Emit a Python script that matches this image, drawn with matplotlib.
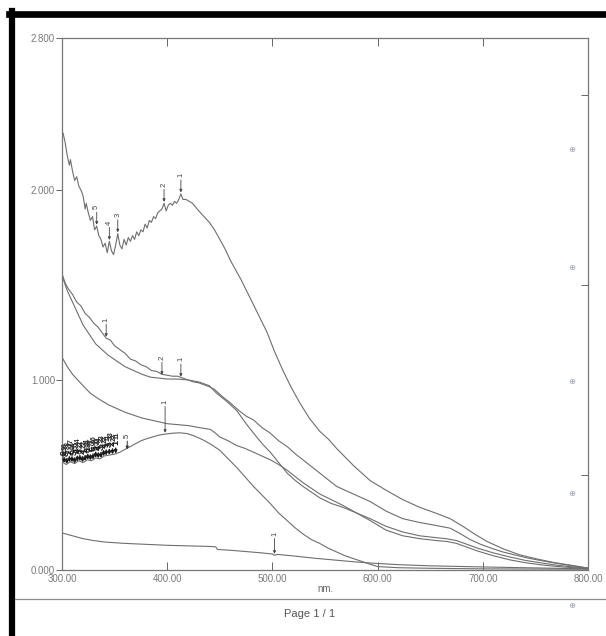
import numpy as np
import matplotlib
matplotlib.use('Agg')
import matplotlib.pyplot as plt
from matplotlib.lines import Line2D

plt.rcParams['font.family'] = ['Liberation Sans', 'DejaVu Sans']

# ---- spectra (wavelength nm, absorbance) ----
a_nm = [300, 301, 303, 305, 307, 308, 310, 312, 314, 316, 318, 320, 322, 323, 325, 327,
        329, 331, 333, 335, 337, 339, 341, 343, 345, 347, 349, 351, 353, 355, 357, 359,
        361, 363, 365, 367, 369, 371, 373, 375, 377, 379, 381, 383, 385, 387, 389, 391,
        393, 395, 397, 399, 401, 403, 405, 407, 409, 411, 413, 415, 418, 421, 424, 427,
        430, 435, 440, 445, 450, 455, 460, 470, 479, 487, 495, 502, 510, 518, 526, 535,
        545, 553, 561, 577, 593, 608, 624, 640, 655, 669, 681, 692, 704, 720, 735, 750,
        767, 784, 800]
a_abs = [2.28, 2.30, 2.25, 2.18, 2.13, 2.16, 2.10, 2.05, 2.07, 2.02, 2.00, 1.97, 1.90, 1.93,
         1.88, 1.84, 1.86, 1.79, 1.81, 1.76, 1.74, 1.70, 1.72, 1.67, 1.73, 1.68, 1.66, 1.71,
         1.77, 1.71, 1.69, 1.74, 1.71, 1.75, 1.73, 1.76, 1.74, 1.78, 1.76, 1.79, 1.78, 1.82,
         1.80, 1.84, 1.83, 1.86, 1.85, 1.88, 1.89, 1.90, 1.93, 1.89, 1.92, 1.93, 1.92, 1.94,
         1.93, 1.95, 1.98, 1.95, 1.95, 1.94, 1.93, 1.91, 1.89, 1.86, 1.83, 1.79, 1.74, 1.69,
         1.63, 1.53, 1.43, 1.34, 1.25, 1.15, 1.05, 0.96, 0.88, 0.80, 0.73, 0.69, 0.64, 0.55,
         0.47, 0.42, 0.37, 0.33, 0.30, 0.27, 0.23, 0.19, 0.15, 0.11, 0.08, 0.06, 0.04, 0.025,
         0.01]

b_nm = [300, 303, 306, 310, 314, 318, 322, 326, 330, 334, 338, 342, 346, 350, 355, 360,
        365, 370, 375, 380, 385, 390, 395, 400, 405, 410, 415, 420, 425, 430, 435, 440,
        445, 453, 460, 468, 475, 482, 490, 498, 506, 514, 522, 529, 537, 545, 553, 561,
        577, 593, 608, 624, 640, 655, 669, 679, 688, 698, 708, 719, 730, 741, 752, 765,
        778, 790, 800]
b_abs = [1.56, 1.51, 1.48, 1.45, 1.41, 1.39, 1.35, 1.33, 1.30, 1.28, 1.25, 1.22, 1.21, 1.18,
         1.16, 1.14, 1.11, 1.10, 1.08, 1.07, 1.05, 1.045, 1.03, 1.025, 1.02, 1.02, 1.01, 1.00,
         0.99, 0.985, 0.975, 0.965, 0.95, 0.91, 0.88, 0.84, 0.81, 0.79, 0.75, 0.72, 0.68, 0.65,
         0.61, 0.58, 0.545, 0.51, 0.475, 0.44, 0.40, 0.36, 0.31, 0.27, 0.25, 0.235, 0.22, 0.19,
         0.16, 0.135, 0.115, 0.095, 0.08, 0.065, 0.053, 0.04, 0.028, 0.018, 0.01]

c_nm = [300, 305, 310, 315, 320, 326, 332, 338, 344, 352, 360, 368, 376, 384, 392, 400,
        410, 420, 430, 440, 447, 456, 466, 475, 485, 491, 498, 506, 514, 522, 529, 537,
        545, 556, 567, 580, 593, 608, 624, 640, 656, 665, 675, 685, 695, 710, 726, 741,
        757, 772, 786, 800]
c_abs = [1.55, 1.47, 1.41, 1.35, 1.29, 1.24, 1.19, 1.16, 1.13, 1.10, 1.07, 1.05, 1.03, 1.015,
         1.01, 1.005, 1.005, 1.00, 0.99, 0.97, 0.93, 0.89, 0.84, 0.77, 0.70, 0.66, 0.62, 0.565,
         0.51, 0.47, 0.44, 0.41, 0.38, 0.35, 0.33, 0.30, 0.27, 0.23, 0.20, 0.18, 0.17, 0.165,
         0.155, 0.135, 0.115, 0.09, 0.068, 0.05, 0.036, 0.024, 0.016, 0.01]

d_nm = [300, 305, 310, 315, 320, 327, 335, 344, 352, 360, 368, 376, 384, 392, 400, 410,
        420, 430, 441, 446, 450, 458, 466, 474, 482, 490, 498, 506, 514, 522, 529, 537,
        545, 556, 567, 580, 593, 608, 624, 640, 656, 666, 675, 685, 695, 710, 726, 741,
        757, 772, 786, 800]
d_abs = [1.12, 1.07, 1.03, 1.00, 0.97, 0.93, 0.90, 0.87, 0.85, 0.83, 0.815, 0.80, 0.79, 0.78,
         0.77, 0.765, 0.76, 0.75, 0.74, 0.72, 0.70, 0.68, 0.655, 0.64, 0.62, 0.60, 0.58, 0.555,
         0.525, 0.49, 0.46, 0.43, 0.40, 0.37, 0.34, 0.30, 0.26, 0.21, 0.18, 0.165, 0.155, 0.15,
         0.14, 0.12, 0.10, 0.075, 0.053, 0.038, 0.026, 0.018, 0.012, 0.008]

e_nm = [300, 304, 308, 312, 316, 320, 324, 328, 332, 336, 340, 345, 350, 355, 360, 365,
        370, 375, 380, 386, 392, 398, 405, 412, 419, 426, 434, 442, 450, 458, 466, 474,
        482, 490, 498, 506, 514, 522, 529, 537, 545, 553, 561, 569, 577, 585, 593, 600,
        620, 650, 700, 750, 800]
e_abs = [0.57, 0.555, 0.57, 0.56, 0.575, 0.565, 0.58, 0.575, 0.59, 0.585, 0.60, 0.605, 0.61,
         0.62, 0.635, 0.65, 0.665, 0.68, 0.69, 0.70, 0.71, 0.715, 0.72, 0.722, 0.718, 0.705,
         0.685, 0.66, 0.63, 0.585, 0.54, 0.49, 0.44, 0.395, 0.35, 0.30, 0.26, 0.22, 0.19, 0.16,
         0.14, 0.115, 0.095, 0.075, 0.06, 0.045, 0.03, 0.018, 0.012, 0.009, 0.006, 0.005, 0.004]

f_nm = [300, 310, 320, 330, 341, 360, 380, 400, 420, 440, 446, 448, 460, 475, 490, 500,
        502, 505, 520, 540, 560, 580, 595, 620, 650, 700, 750, 800]
f_abs = [0.195, 0.18, 0.165, 0.155, 0.147, 0.14, 0.135, 0.13, 0.127, 0.124, 0.122, 0.108,
         0.104, 0.097, 0.09, 0.084, 0.078, 0.082, 0.074, 0.062, 0.052, 0.042, 0.036, 0.028,
         0.022, 0.016, 0.011, 0.006]

# peak picks printed by the instrument
pk_nm = [333, 345, 353, 397, 413, 342, 395, 413, 398, 502]
pk_abs = [1.81, 1.73, 1.77, 1.93, 1.98, 1.22, 1.02, 1.01, 0.715, 0.078]
pk_txt = ['5', '4', '3', '2', '1', '1', '2', '1', '1', '1']
pk_off = [12, 12, 12, 12, 12, 12, 12, 12, 22, 14]

# crowded peak picks on the lowest spectrum (overprinted in the scan)
cl_nm = [302, 304.5, 307, 309.5, 312, 314.5, 317, 319.5, 322, 324.5, 327, 329.5, 332,
         334.5, 337, 339.5, 342, 345, 348, 351]
cl_txt = ['9', '8', '7', '6', '5', '4', '3', '2', '1', '8', '7', '6', '5', '4', '3', '2',
          '1', '3', '2', '1']

xticks = [300, 400, 500, 600, 700, 800]
yticks = [0.0, 1.0, 2.0, 2.8]

line_col = '#6e6e6e'
txt_col = '#7a7a7a'

fig = plt.figure(figsize=(6.06, 6.36), dpi=100)
ax = fig.add_axes([62 / 606, 66 / 636, 526 / 606, 532 / 636])

for xs, ys in [(a_nm, a_abs), (b_nm, b_abs), (c_nm, c_abs), (d_nm, d_abs),
               (e_nm, e_abs), (f_nm, f_abs)]:
    ax.plot(xs, ys, color=line_col, lw=0.8)

for x, y, t, off in zip(pk_nm, pk_abs, pk_txt, pk_off):
    ax.annotate(t, xy=(x, y), xytext=(0, off), textcoords='offset points',
                ha='center', va='bottom', rotation=90, fontsize=5.5, color='#444444',
                arrowprops=dict(arrowstyle='-|>', lw=0.6, color='#444444',
                                mutation_scale=4, shrinkA=0, shrinkB=1))

# overprinted labels on the lowest spectrum
for i, (x, t) in enumerate(zip(cl_nm, cl_txt)):
    y = np.interp(x, e_nm, e_abs)
    ax.annotate(t, xy=(x, y), xytext=(0, 6), textcoords='offset points',
                ha='center', va='bottom', rotation=90, fontsize=6.5, color='#1a1a1a',
                fontweight='bold',
                arrowprops=dict(arrowstyle='-|>', lw=1.1, color='#1a1a1a',
                                mutation_scale=4, shrinkA=0, shrinkB=0))
    ax.text(x + 1.5, y + 0.07 + 0.008 * (i % 3), t * 2, rotation=90, fontsize=5,
            color='#2a2a2a', ha='center', va='bottom', fontweight='bold')
ax.annotate('5', xy=(362, 0.635), xytext=(0, 8), textcoords='offset points',
            ha='center', va='bottom', rotation=90, fontsize=5.5, color='#333333',
            arrowprops=dict(arrowstyle='-|>', lw=0.7, color='#333333',
                            mutation_scale=4, shrinkA=0, shrinkB=0))

ax.set_xlim(300, 800)
ax.set_ylim(0, 2.8)
ax.set_xticks(xticks)
ax.set_xticklabels(['%.2f' % v for v in xticks])
ax.set_yticks(yticks)
ax.set_yticklabels(['%.3f' % v for v in yticks])
ax.tick_params(axis='x', direction='in', length=6, width=0.7, color='#666666',
               labelsize=7, labelcolor=txt_col, pad=3, top=True)
ax.tick_params(axis='y', direction='out', length=4, width=0.7, color='#666666',
               labelsize=7, labelcolor=txt_col, pad=1)
sec = ax.secondary_yaxis('right')
sec.set_yticks([0.5, 1.5, 2.5])
sec.tick_params(direction='in', length=5, width=0.7, color='#666666', labelright=False)
sec.spines['right'].set_visible(False)
for s in ax.spines.values():
    s.set_color('#777777')
    s.set_linewidth(0.9)
ax.set_xlabel('nm.', fontsize=7, color='#666666', labelpad=0)

# page frame of the scanned printout
fig.add_artist(Line2D([8.5 / 606, 1.0], [1 - 14 / 636, 1 - 14 / 636], color='black',
                      lw=4.8, transform=fig.transFigure))
fig.add_artist(Line2D([11.6 / 606, 11.6 / 606], [0.0, 1 - 11 / 636], color='black',
                      lw=4.5, transform=fig.transFigure))
fig.add_artist(Line2D([15 / 606, 1.0], [1 - 599 / 636, 1 - 599 / 636], color='#8a8a8a',
                      lw=0.9, transform=fig.transFigure))
fig.text(310 / 606, 1 - 614 / 636, 'Page 1 / 1', ha='center', va='center', fontsize=8,
         color='#555555')
for yy in [150, 268, 382, 495, 607]:
    fig.text(572 / 606, 1 - yy / 636, '\u2295', ha='center', va='center', fontsize=6,
             color='#9aa0b4')

fig.savefig('out.png', dpi=100)
